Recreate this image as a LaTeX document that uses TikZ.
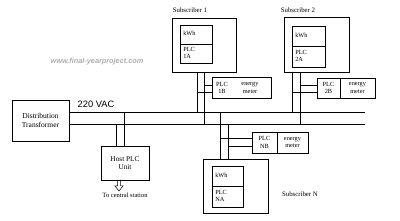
\documentclass[tikz,border=0pt]{standalone}
\usepackage{fontspec}
\setmainfont{Liberation Serif}
\newfontfamily\arialfont{Liberation Sans}
\begin{document}
\begin{tikzpicture}[x=1pt,y=-1pt,line width=0.6pt,
  box/.style={draw,inner sep=0pt,outer sep=0pt},
  txt/.style={inner sep=0pt,align=left,font=\fontsize{6.3}{7.2}\selectfont},
  ctxt/.style={inner sep=0pt,align=center,font=\fontsize{6.3}{7.2}\selectfont},
  lbl/.style={inner sep=0pt,font=\fontsize{6.8}{8}\selectfont}]
\useasboundingbox (0,0) rectangle (400,221);

% watermark
\node[inner sep=0pt,font=\arialfont\bfseries\itshape\fontsize{7.3}{8}\selectfont,text=gray!65] (wm) at (97,62) {www.final-yearproject.com};

% transformer and host
\node[box,minimum width=57pt,minimum height=41pt,align=center,font=\fontsize{7.5}{8.2}\selectfont] (trans) at (40.5,120.5) {Distribution\\Transformer};
\node[inner sep=0pt,font=\arialfont\fontsize{9.3}{10}\selectfont] (vac) at (96,104) {220 VAC};
\node[box,minimum width=48pt,minimum height=34pt,align=center,font=\fontsize{7.3}{8.2}\selectfont] (host) at (125,163) {Host PLC\\Unit};
\node[lbl,font=\fontsize{6.5}{7.5}\selectfont] (cs) at (125,195) {To central station};

% bus
\coordinate (busT) at (365,112);
\coordinate (busB) at (365,124);
\draw (trans.east |- busT) -- (busT);
\draw (trans.east |- busB) -- (busB);

% host taps
\coordinate (hT) at (124,112);
\coordinate (hB) at (116,124);
\draw (hT) -- (host.north -| hT);
\draw (hB) -- (host.north -| hB);
\draw[line width=0.5pt] (117.5,180) -- (117.5,186) -- (115,186) -- (119,191) -- (123,186) -- (120.5,186) -- (120.5,180);

% subscriber 1
\node[lbl] (l1) at (190,10) {Subscriber 1};
\node[box,minimum width=64pt,minimum height=54pt] (sub1) at (204,45) {};
\node[box,minimum width=32pt,minimum height=19pt] (kwh1) at (196,34.5) {};
\node[box,minimum width=32pt,minimum height=19pt] (plca1) at (196,53.5) {};
\node[txt,anchor=west] at ([xshift=3pt,yshift=1.5pt]kwh1.west) {kWh};
\node[txt,anchor=west] at ([xshift=3pt,yshift=0.5pt]plca1.west) {PLC\\1A};
\node[box,minimum width=59pt,minimum height=21pt] (plcb1) at (241.5,87.5) {};
\node[ctxt] at (222,88) {PLC\\1B};
\node[ctxt] at (250,88) {energy\\meter};
\coordinate (s1T) at (197,112);
\coordinate (s1B) at (204,124);
\draw (sub1.south -| s1T) -- (s1T);
\draw (sub1.south -| s1B) -- (s1B);
\draw (s1B |- 0,85) -- (plcb1.west |- 0,85);
\draw (s1T |- 0,92) -- (plcb1.west |- 0,92);

% subscriber 2
\node[lbl] (l2) at (298,10) {Subscriber 2};
\node[box,minimum width=65pt,minimum height=55pt] (sub2) at (316.5,44.5) {};
\node[box,minimum width=33pt,minimum height=20pt] (kwh2) at (308.5,36) {};
\node[box,minimum width=33pt,minimum height=21pt] (plca2) at (308.5,56.5) {};
\node[txt,anchor=west] at ([xshift=3pt,yshift=1pt]kwh2.west) {kWh};
\node[txt,anchor=west] at ([xshift=3pt,yshift=0.5pt]plca2.west) {PLC\\2A};
\node[box,minimum width=23pt,minimum height=20pt] (plcb2) at (328.5,88) {};
\node[box,minimum width=35pt,minimum height=20pt] (em2) at (357.5,88) {};
\node[ctxt] at (plcb2) {PLC\\2B};
\node[ctxt] at (em2) {energy\\meter};
\coordinate (s2T) at (292,112);
\coordinate (s2B) at (300,124);
\draw (sub2.south -| s2T) -- (s2T);
\draw (sub2.south -| s2B) -- (s2B);
\draw (s2B |- 0,85) -- (plcb2.west |- 0,85);
\draw (s2T |- 0,92) -- (plcb2.west |- 0,92);

% subscriber N
\node[lbl] (ln) at (300,194) {Subscriber N};
\node[box,minimum width=65pt,minimum height=54pt] (subn) at (235.5,186) {};
\node[box,minimum width=31pt,minimum height=20pt] (kwhn) at (227.5,176) {};
\node[box,minimum width=31pt,minimum height=21pt] (plcan) at (227.5,196.5) {};
\node[txt,anchor=west] at ([xshift=3pt,yshift=1pt]kwhn.west) {kWh};
\node[txt,anchor=west] at ([xshift=3pt,yshift=0.5pt]plcan.west) {PLC\\NA};
\node[box,minimum width=25pt,minimum height=21pt] (plcbn) at (264.5,142.5) {};
\node[box,minimum width=31pt,minimum height=21pt] (emn) at (292.5,142.5) {};
\node[ctxt] at (plcbn) {PLC\\NB};
\node[ctxt] at (emn) {energy\\meter};
\coordinate (snT) at (220,112);
\coordinate (snB) at (228,124);
\draw (snT) -- (subn.north -| snT);
\draw (snB) -- (subn.north -| snB);
\draw (snT |- 0,138) -- (plcbn.west |- 0,138);
\draw (snB |- 0,146) -- (plcbn.west |- 0,146);
\end{tikzpicture}
\end{document}
